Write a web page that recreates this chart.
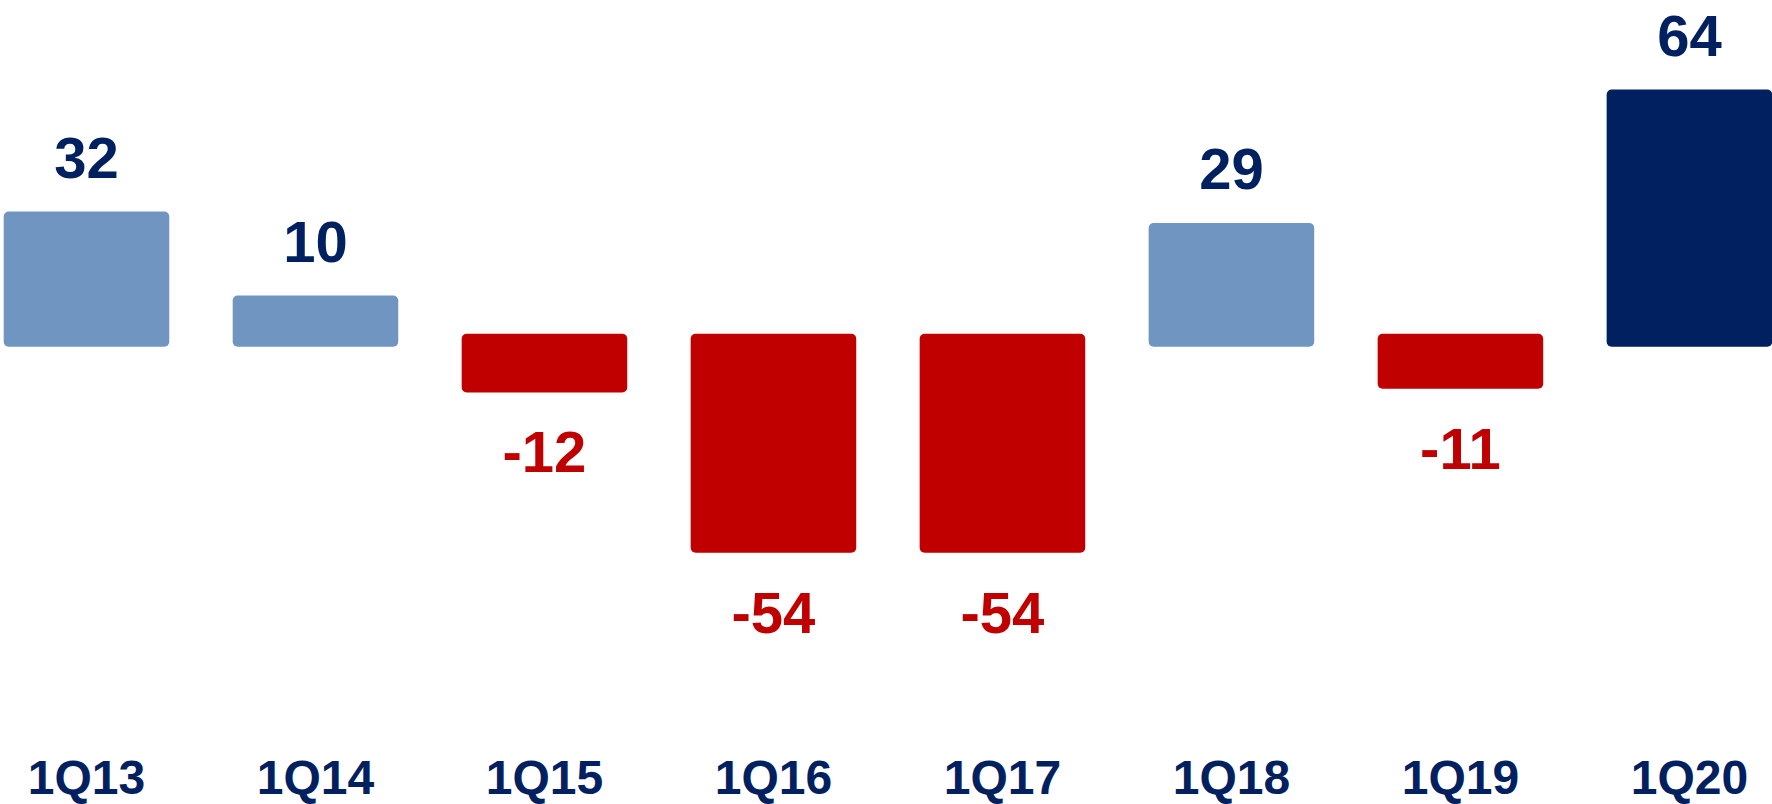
<!DOCTYPE html>
<html>
<head>
<meta charset="utf-8">
<script src="https://cdn.jsdelivr.net/npm/d3@7"></script>
<style>
  html, body { margin: 0; padding: 0; background: #fff; }
  text { font-family: 'Liberation Sans', Arial, sans-serif; font-weight: bold; }
</style>
</head>
<body>
<div id="root"></div>
<script>
const width = 1772;
const height = 804;

const quarters = ['1Q13', '1Q14', '1Q15', '1Q16', '1Q17', '1Q18', '1Q19', '1Q20'];
const values = [32, 10, -12, -54, -54, 29, -11, 64];
const barColors = ['#7095c0', '#7095c0', '#c00000', '#c00000', '#c00000', '#7095c0', '#c00000', '#002060'];

const navy = '#002060';
const red = '#c00000';

// bars run a little past the zero line
const overhang = 13;

const svg = d3
  .select('#root')
  .append('svg')
  .attr('width', width)
  .attr('height', height);

// Scales

const xScale = d3
  .scaleBand()
  .domain(quarters)
  .range([3.7, 1772.2])
  .paddingInner(0.277)
  .paddingOuter(0);

const yScale = d3
  .scaleLinear()
  .domain([0, 64])
  .range([333.7, 89.5]);

const data = quarters.map((q, i) => ({ q, v: values[i], color: barColors[i] }));

// Bars

svg
  .selectAll('rect.bar')
  .data(data)
  .enter()
  .append('rect')
  .attr('class', 'bar')
  .attr('x', (d) => xScale(d.q))
  .attr('width', xScale.bandwidth())
  .attr('y', (d) => Math.min(yScale(d.v), yScale(0)))
  .attr('height', (d) => Math.abs(yScale(d.v) - yScale(0)) + overhang)
  .attr('rx', 5)
  .attr('ry', 5)
  .attr('fill', (d) => d.color);

// Value labels

svg
  .selectAll('text.value')
  .data(data)
  .enter()
  .append('text')
  .attr('class', 'value')
  .attr('x', (d) => xScale(d.q) + xScale.bandwidth() / 2)
  .attr('y', (d) =>
    d.v >= 0 ? yScale(d.v) - 34 : yScale(d.v) + overhang + 80
  )
  .attr('text-anchor', 'middle')
  .attr('font-size', 58)
  .attr('fill', (d) => (d.v >= 0 ? navy : red))
  .text((d) => d.v);

// Category labels

svg
  .selectAll('text.cat')
  .data(quarters)
  .enter()
  .append('text')
  .attr('class', 'cat')
  .attr('x', (d) => xScale(d) + xScale.bandwidth() / 2)
  .attr('y', 794)
  .attr('text-anchor', 'middle')
  .attr('font-size', 48)
  .attr('fill', navy)
  .text((d) => d);
</script>
</body>
</html>
